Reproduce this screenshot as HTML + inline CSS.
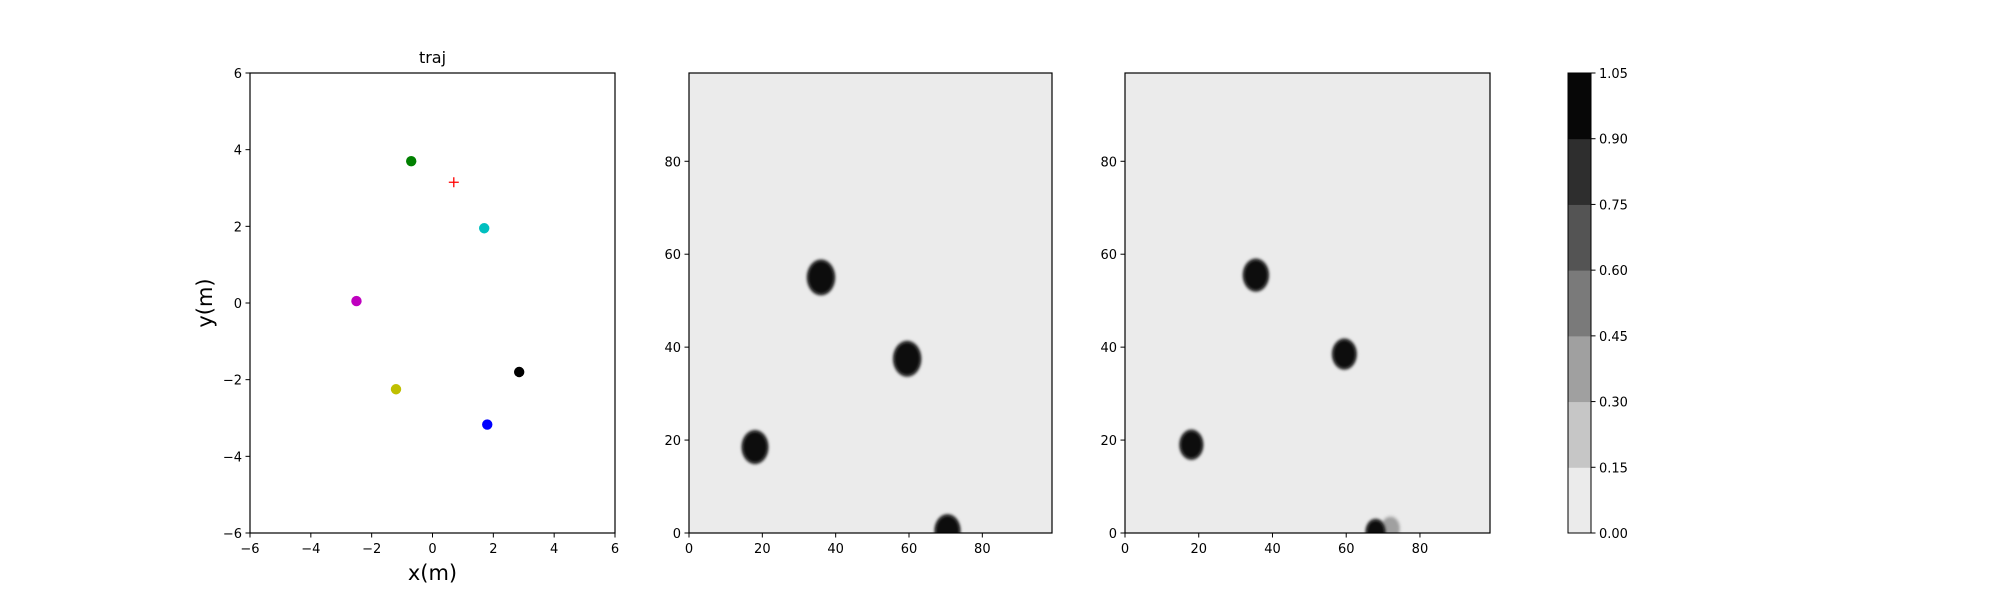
<!DOCTYPE html>
<html><head><meta charset="utf-8"><style>
html,body{margin:0;padding:0;background:#fff;}
svg{display:block;font-family:"DejaVu Sans","Liberation Sans",sans-serif;}
</style></head><body>
<svg id="fig" width="2000" height="600" viewBox="0 0 2000 600" xmlns="http://www.w3.org/2000/svg">
<defs><filter id="soft" x="-50%" y="-50%" width="200%" height="200%"><feGaussianBlur stdDeviation="1.2"/></filter></defs>
</svg>
<script>
// Trajectory panel data
const trajNames = ['green','red-target','cyan','magenta','yellow','black','blue'];
const trajX = [-0.7, 0.7, 1.7, -2.5, -1.2, 2.85, 1.8];
const trajY = [3.7, 3.15, 1.95, 0.05, -2.25, -1.8, -3.17];
const trajColors = ['#008000','#ff0000','#00bfbf','#bf00bf','#bfbf00','#000000','#0000ff'];
const trajTicks = [-6,-4,-2,0,2,4,6];
// Heatmap 1 blobs (centre x, centre y, radius, intensity)
const map1X = [18, 36, 59.5, 70.5];
const map1Y = [18.5, 55, 37.5, 0.5];
const map1R = [3.3, 3.5, 3.5, 3.2];
const map1V = [1, 1, 1, 1];
// Heatmap 2 blobs
const map2X = [18, 35.5, 59.5, 68, 72];
const map2Y = [19, 55.5, 38.5, 0.3, 1.0];
const map2R = [2.9, 3.2, 3.0, 2.4, 2.4];
const map2V = [1, 1, 1, 0.9, 0.3];
const mapTicks = [0,20,40,60,80];
const cbTicks = ['0.00','0.15','0.30','0.45','0.60','0.75','0.90','1.05'];
const cbColors = ['#ebebeb','#c6c6c6','#a0a0a0','#7a7a7a','#545454','#2e2e2e','#070707'];

const NS='http://www.w3.org/2000/svg';
const svg=document.getElementById('fig');
function el(tag,attrs,parent){const e=document.createElementNS(NS,tag);for(const k in attrs)e.setAttribute(k,attrs[k]);(parent||svg).appendChild(e);return e;}
function txt(s,attrs,parent){const t=el('text',attrs,parent);t.textContent=s;return t;}
const T=73,B=533;

// Panel 1
const p1={l:250,r:615};
const sx1=v=>p1.l+(v+6)/12*(p1.r-p1.l);
const sy1=v=>B-(v+6)/12*(B-T);
const g1=el('g',{});


el('rect',{x:p1.l,y:T,width:p1.r-p1.l,height:B-T,fill:'#fff'},g1);
trajX.forEach((x,i)=>{
  let m;
  if(trajNames[i]==='red-target'){
    m=el('path',{d:`M${sx1(x)-5},${sy1(trajY[i])}h10M${sx1(x)},${sy1(trajY[i])-5}v10`,stroke:trajColors[i],'stroke-width':1.3},g1);
  } else {
    m=el('circle',{cx:sx1(x),cy:sy1(trajY[i]),r:5.2,fill:trajColors[i]},g1);
  }
  
  
});
el('rect',{x:p1.l,y:T,width:p1.r-p1.l,height:B-T,fill:'none',stroke:'#000','stroke-width':1.2},g1);
trajTicks.forEach(v=>{
  el('line',{x1:sx1(v),x2:sx1(v),y1:B,y2:B+4.5,stroke:'#000'},g1);
  const a=txt(String(v).replace('-','\u2212'),{x:sx1(v),y:B+20,'font-size':13,'text-anchor':'middle'},g1);
  
  
  el('line',{x1:p1.l-4.5,x2:p1.l,y1:sy1(v),y2:sy1(v),stroke:'#000'},g1);
  const b=txt(String(v).replace('-','\u2212'),{x:p1.l-8,y:sy1(v)+5,'font-size':13,'text-anchor':'end'},g1);
  
  
});
const tt=txt('traj',{x:(p1.l+p1.r)/2,y:63,'font-size':16,'text-anchor':'middle'},g1);


const xl=txt('x(m)',{x:(p1.l+p1.r)/2,y:580,'font-size':21,'text-anchor':'middle'},g1);


const yl=txt('y(m)',{x:0,y:0,'font-size':21,'text-anchor':'middle',transform:`translate(212,${(T+B)/2}) rotate(-90)`},g1);



// Heatmaps
function heatmap(name,l,r,bx,by,br,bv){
  const g=el('g',{});
  
  
  const sx=v=>l+v/99*(r-l), sy=v=>B-v/99*(B-T);
  const cid=name+'-clip';
  const cp=el('clipPath',{id:cid},g);
  el('rect',{x:l,y:T,width:r-l,height:B-T},cp);
  el('rect',{x:l,y:T,width:r-l,height:B-T,fill:cbColors[0]},g);
  const inner=el('g',{'clip-path':`url(#${cid})`},g);
  const kx=(r-l)/99, ky=(B-T)/99;
  // draw lighter blobs first
  const order=bx.map((_,i)=>i).sort((a,b)=>bv[a]-bv[b]);
  order.forEach(i=>{
    const x=bx[i], v=bv[i];
    const dark=v>=0.9;
    const halo=el('ellipse',{cx:sx(x),cy:sy(by[i]),rx:br[i]*kx+1.8,ry:br[i]*ky+2.2,fill:dark?'#666':'#d6d6d6',filter:'url(#soft)'},inner);
    
    
    const e=el('ellipse',{cx:sx(x),cy:sy(by[i]),rx:br[i]*kx,ry:br[i]*ky,fill:dark?'#070707':cbColors[Math.max(1,Math.floor(v/0.15))],filter:'url(#soft)'},inner);
    
    
  });
  el('rect',{x:l,y:T,width:r-l,height:B-T,fill:'none',stroke:'#000','stroke-width':1.2},g);
  mapTicks.forEach(v=>{
    el('line',{x1:sx(v),x2:sx(v),y1:B,y2:B+4.5,stroke:'#000'},g);
    const a=txt(String(v),{x:sx(v),y:B+20,'font-size':13,'text-anchor':'middle'},g);
    
    
    el('line',{x1:l-4.5,x2:l,y1:sy(v),y2:sy(v),stroke:'#000'},g);
    const b=txt(String(v),{x:l-8,y:sy(v)+5,'font-size':13,'text-anchor':'end'},g);
    
    
  });
}
heatmap('heatmap-1',689,1052,map1X,map1Y,map1R,map1V);
heatmap('heatmap-2',1125,1490,map2X,map2Y,map2R,map2V);

// Colorbar
const cb=el('g',{});


const cl=1568,cr=1591;
const n=cbColors.length;
cbColors.forEach((c,i)=>{
  const y0=B-(i+1)/n*(B-T);
  const r=el('rect',{x:cl,y:y0,width:cr-cl,height:(B-T)/n+0.5,fill:c},cb);
  
  
});
el('rect',{x:cl,y:T,width:cr-cl,height:B-T,fill:'none',stroke:'#000','stroke-width':1},cb);
cbTicks.forEach((s,i)=>{
  const y=B-i/(cbTicks.length-1)*(B-T);
  el('line',{x1:cr,x2:cr+4.5,y1:y,y2:y,stroke:'#000'},cb);
  const t=txt(s,{x:cr+8,y:y+5,'font-size':13},cb);
  
  
});
</script>
</body></html>
